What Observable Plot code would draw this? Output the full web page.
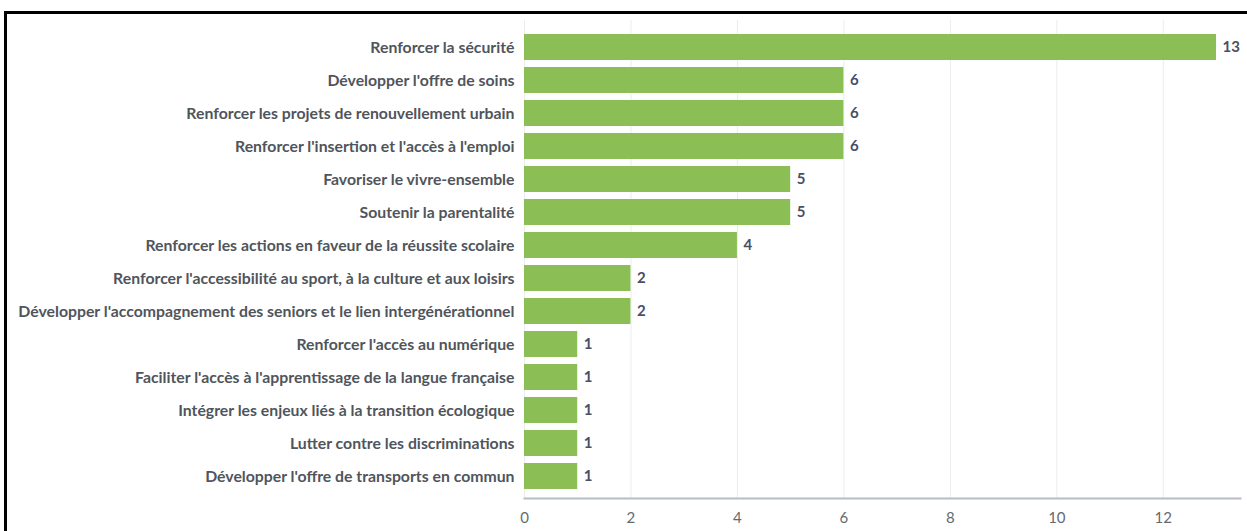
<!DOCTYPE html>
<html>
<head>
<meta charset="utf-8">
<script src="https://cdn.jsdelivr.net/npm/d3@7"></script>
<script src="https://cdn.jsdelivr.net/npm/@observablehq/plot@0.6"></script>
<style>
  html, body { margin: 0; padding: 0; background: #fff; overflow: hidden; width: 1247px; height: 531px; }
  #wrap { position: relative; width: 1247px; height: 531px; overflow: hidden; }
  #border { position: absolute; left: 4px; top: 11px; width: 1300px; height: 600px; border-left: 3px solid #000; border-top: 3px solid #000; box-sizing: border-box; }
  #chart { position: absolute; left: 0; top: 0; }
</style>
</head>
<body>
<div id="wrap"><div id="border"></div><div id="chart"></div></div>
<script>
const categories = [
  "Renforcer la sécurité",
  "Développer l'offre de soins",
  "Renforcer les projets de renouvellement urbain",
  "Renforcer l'insertion et l'accès à l'emploi",
  "Favoriser le vivre-ensemble",
  "Soutenir la parentalité",
  "Renforcer les actions en faveur de la réussite scolaire",
  "Renforcer l'accessibilité au sport, à la culture et aux loisirs",
  "Développer l'accompagnement des seniors et le lien intergénérationnel",
  "Renforcer l'accès au numérique",
  "Faciliter l'accès à l'apprentissage de la langue française",
  "Intégrer les enjeux liés à la transition écologique",
  "Lutter contre les discriminations",
  "Développer l'offre de transports en commun"
];
const values = [13, 6, 6, 6, 5, 5, 4, 2, 2, 1, 1, 1, 1, 1];
const xTicks = [0, 2, 4, 6, 8, 10, 12];

const data = categories.map((c, i) => ({category: c, value: values[i]}));

const chart = Plot.plot({
  width: 1247,
  height: 531,
  marginLeft: 524,
  marginRight: 7,
  marginTop: 24,
  marginBottom: 33,
  style: {fontFamily: "Lato, sans-serif", background: "transparent"},
  x: {domain: [0, 13.45], ticks: xTicks},
  y: {domain: categories, paddingInner: 0.22, paddingOuter: 0.11},
  marks: [
    Plot.gridX(xTicks, {stroke: "#ececf0", strokeOpacity: 1, strokeWidth: 1, insetTop: -4}),
    Plot.barX(data, {x: "value", y: "category", fill: "#8bbf56"}),
    Plot.text(data, {x: "value", y: "category", text: d => String(d.value), textAnchor: "start", dx: 6, fill: "#4a4f66", fontWeight: "bold", fontSize: 15}),
    Plot.axisY({tickSize: 0, tickPadding: 10, fill: "#50555c", fontWeight: "bold", fontSize: 15.8, label: null}),
    Plot.axisX(xTicks, {tickSize: 0, tickPadding: 14, fill: "#666a70", fontSize: 15, label: null}),
    Plot.frame({anchor: "bottom", stroke: "#b8bcc6", strokeWidth: 2})
  ]
});
document.getElementById("chart").appendChild(chart);
</script>
</body>
</html>
